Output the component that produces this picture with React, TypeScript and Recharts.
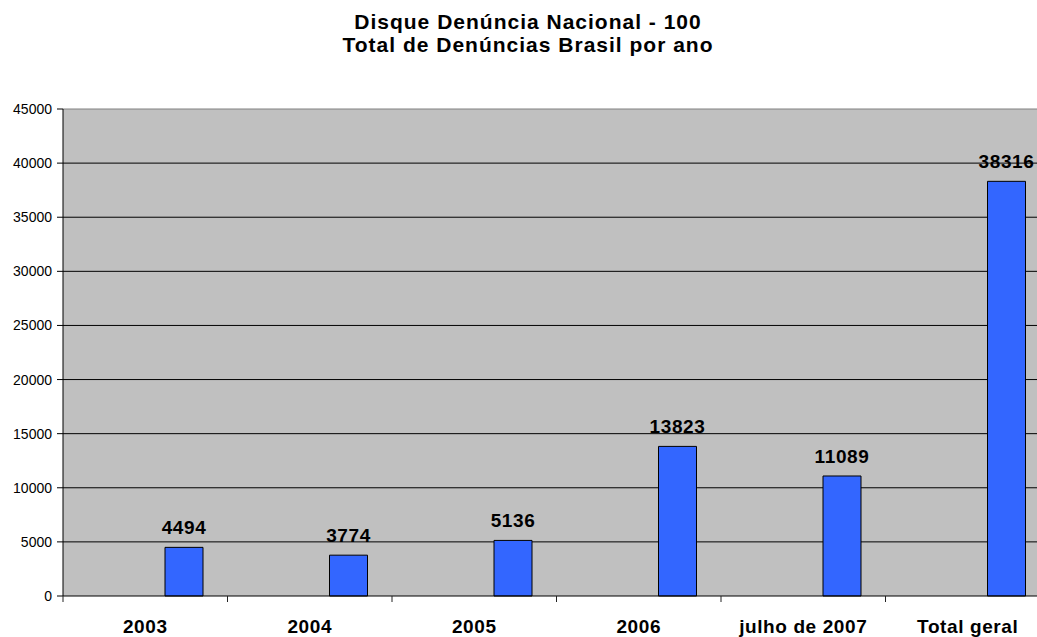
import { Bar, BarChart, CartesianGrid, LabelList, ReferenceLine, XAxis, YAxis } from "recharts";

const categories = ["2003", "2004", "2005", "2006", "julho de 2007", "Total geral"];
// the source sheet had two empty series in front of the real one
const emptyA = [null, null, null, null, null, null];
const emptyB = [null, null, null, null, null, null];
const denuncias = [4494, 3774, 5136, 13823, 11089, 38316];
const yTicks = [0, 5000, 10000, 15000, 20000, 25000, 30000, 35000, 40000, 45000];
const gridValues = [5000, 10000, 15000, 20000, 25000, 30000, 35000, 40000];

const data = categories.map((name, i) => ({
  name,
  a: emptyA[i],
  b: emptyB[i],
  total: denuncias[i],
}));

const FONT = "'Liberation Sans', Arial, Helvetica, sans-serif";
const CHART_W = 1060;
const CHART_H = 637;
const MARGIN = { top: 109, right: 10, left: 0, bottom: 0 };
const Y_AXIS_W = 63;
const HALF_BAND = (CHART_W - MARGIN.left - MARGIN.right - Y_AXIS_W) / categories.length / 2;

function CategoryTick(props: any) {
  const { x, y, payload, index } = props;
  const last = index === categories.length - 1;
  return (
    <g>
      <line x1={x - HALF_BAND} x2={x - HALF_BAND} y1={y - 6} y2={y} stroke="#222" />
      {last && <line x1={x + HALF_BAND} x2={x + HALF_BAND} y1={y - 6} y2={y} stroke="#222" />}
      <text
        x={x}
        y={y}
        dy={31}
        textAnchor="middle"
        fontFamily={FONT}
        fontSize={19}
        fontWeight="bold"
        letterSpacing={0.6}
        fill="#000"
      >
        {payload.value}
      </text>
    </g>
  );
}

export default function App() {
  return (
    <div
      style={{
        position: "fixed",
        left: 0,
        top: 0,
        width: 1037,
        height: 637,
        overflow: "hidden",
        background: "#fff",
      }}
    >
      <div
        style={{
          position: "absolute",
          left: 0,
          top: 10,
          width: 1056,
          textAlign: "center",
          fontFamily: FONT,
          fontSize: 21,
          fontWeight: "bold",
          letterSpacing: 1,
          lineHeight: "23px",
          color: "#000",
        }}
      >
        Disque Denúncia Nacional - 100
        <br />
        Total de Denúncias Brasil por ano
      </div>
      <BarChart
        width={CHART_W}
        height={CHART_H}
        data={data}
        margin={MARGIN}
        barGap={0}
        barCategoryGap={26}
        style={{ position: "absolute", left: 0, top: 0 }}
      >
        <CartesianGrid
          vertical={false}
          horizontalValues={gridValues}
          stroke="#000"
          fill="#c0c0c0"
          fillOpacity={1}
        />
        <ReferenceLine y={45000} stroke="#808080" />
        <XAxis
          dataKey="name"
          height={41}
          tickSize={6}
          tickMargin={0}
          tickLine={false}
          axisLine={{ stroke: "#000" }}
          tick={<CategoryTick />}
          interval={0}
        />
        <YAxis
          width={Y_AXIS_W}
          domain={[0, 45000]}
          ticks={yTicks}
          interval={0}
          tickSize={6}
          tickMargin={5}
          axisLine={{ stroke: "#000" }}
          tickLine={{ stroke: "#000" }}
          tick={{ fill: "#000", fontSize: 14, fontFamily: FONT }}
        />
        <Bar dataKey="a" fill="#3366ff" isAnimationActive={false} />
        <Bar dataKey="b" fill="#3366ff" isAnimationActive={false} />
        <Bar dataKey="total" fill="#3366ff" stroke="#000" strokeWidth={1} isAnimationActive={false}>
          <LabelList
            dataKey="total"
            position="top"
            offset={13}
            fill="#000"
            fontSize={19}
            fontWeight="bold"
            letterSpacing={0.6}
            fontFamily={FONT}
          />
        </Bar>
      </BarChart>
    </div>
  );
}
